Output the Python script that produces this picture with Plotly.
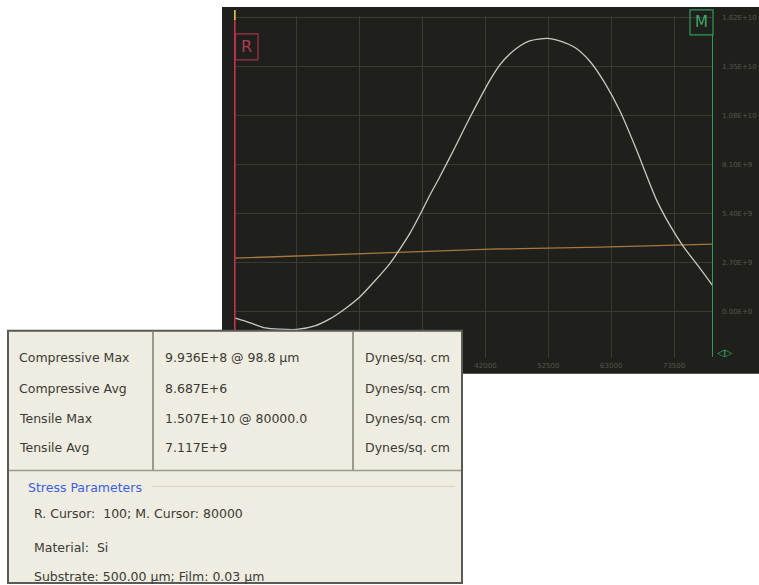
import plotly.graph_objects as go

W, H = 759, 585

# ---- data ----
stress_x = [100, 2700, 5200, 7700, 10500, 13500, 16000, 18500, 21000, 23500, 26100, 27700,
            29400, 31100, 32700, 34400, 36900, 39400, 42800, 44400, 46100, 47800, 49400,
            52400, 54400, 57000, 59500, 62000, 64500, 67000, 69500, 70600, 72800, 75000,
            77800, 80000]
stress_y = [-3.6e8, -6.3e8, -9.1e8, -9.8e8, -9.936e8, -8.0e8, -4.1e8, 1.4e8, 8.0e8, 1.68e9,
            2.67e9, 3.44e9, 4.32e9, 5.36e9, 6.41e9, 7.45e9, 9.05e9, 1.07e10, 1.279e10,
            1.361e10, 1.422e10, 1.466e10, 1.493e10, 1.507e10, 1.493e10, 1.455e10, 1.378e10,
            1.257e10, 1.103e10, 9.10e9, 7.01e9, 6.13e9, 4.76e9, 3.60e9, 2.39e9, 1.40e9]
avg_x = [100, 14400, 27700, 42800, 61200, 80000]
avg_y = [2.94e9, 3.11e9, 3.27e9, 3.44e9, 3.55e9, 3.71e9]

x_ticks = [10500, 21000, 31500, 42000, 52500, 63000, 73500]
x_ticktext = ["", "", "", "42000", "52500", "63000", "73500"]
y_ticks = [0, 2.7e9, 5.4e9, 8.1e9, 1.08e10, 1.35e10, 1.62e10]
y_ticktext = ["0.00E+0", "2.70E+9", "5.40E+9", "8.10E+9", "1.08E+10", "1.35E+10", "1.62E+10"]

r_cursor, m_cursor = 100, 80000

table_rows = [
    ("Compressive Max", "9.936E+8 @ 98.8 µm", "Dynes/sq. cm"),
    ("Compressive Avg", "8.687E+6", "Dynes/sq. cm"),
    ("Tensile Max", "1.507E+10 @ 80000.0", "Dynes/sq. cm"),
    ("Tensile Avg", "7.117E+9", "Dynes/sq. cm"),
]
param_title = "Stress Parameters"
param_lines = ["R. Cursor:  100; M. Cursor: 80000", "Material:  Si",
               "Substrate: 500.00 µm; Film: 0.03 µm"]


def px(x):
    return x / W


def py(y):
    return 1 - y / H


PANEL = "#1f201b"
GRID = "#3a3c34"

fig = go.Figure()
fig.add_trace(go.Scatter(x=avg_x, y=avg_y, mode="lines",
                         line=dict(color="#a8773f", width=1.3), hoverinfo="skip"))
fig.add_trace(go.Scatter(x=stress_x, y=stress_y, mode="lines", line_shape="spline",
                         line=dict(color="#c9c9c0", width=1.3, smoothing=0.7), hoverinfo="skip"))

shapes = []
ann = []
# dark panel
shapes.append(dict(type="rect", xref="paper", yref="paper", x0=px(222), x1=1.0,
                   y0=py(373), y1=py(5), fillcolor=PANEL, line=dict(width=0), layer="below"))
# R cursor
shapes.append(dict(type="line", xref="x", yref="paper", x0=r_cursor, x1=r_cursor,
                   y0=py(365), y1=py(8), line=dict(color="#c0344c", width=2), layer="above"))
shapes.append(dict(type="line", xref="x", yref="paper", x0=r_cursor, x1=r_cursor,
                   y0=py(18), y1=py(8), line=dict(color="#c8c850", width=2), layer="above"))
shapes.append(dict(type="rect", xref="paper", yref="paper", x0=px(235.5), x1=px(258),
                   y0=py(58), y1=py(32), line=dict(color="#a8324a", width=1.2), layer="above"))
ann.append(dict(text="R", xref="paper", yref="paper", x=px(246.5), y=py(45), showarrow=False,
                font=dict(family="DejaVu Sans", size=16, color="#b03a50"),
                xanchor="center", yanchor="middle"))
# M cursor
shapes.append(dict(type="line", xref="x", yref="paper", x0=m_cursor, x1=m_cursor,
                   y0=py(356), y1=py(33), line=dict(color="#2f9a5c", width=2), layer="above"))
shapes.append(dict(type="rect", xref="paper", yref="paper", x0=px(690), x1=px(713),
                   y0=py(33), y1=py(8), line=dict(color="#2f9a5c", width=1.2), layer="above"))
ann.append(dict(text="M", xref="paper", yref="paper", x=px(701.5), y=py(20.5), showarrow=False,
                font=dict(family="DejaVu Sans", size=15, color="#3aa866"),
                xanchor="center", yanchor="middle"))
ann.append(dict(text="◁▷", xref="paper", yref="paper", x=px(725), y=py(352), showarrow=False,
                font=dict(family="DejaVu Sans", size=10, color="#3aa866"),
                xanchor="center", yanchor="middle"))

# table panel
TX0, TX1, TY0, TY1 = 8, 462, 330, 583
shapes.append(dict(type="rect", xref="paper", yref="paper", x0=px(TX0), x1=px(TX1),
                   y0=py(TY1), y1=py(TY0), fillcolor="#efede1",
                   line=dict(color="#5a5a55", width=2), layer="above"))
for cx in (153, 353):
    shapes.append(dict(type="line", xref="paper", yref="paper", x0=px(cx), x1=px(cx),
                       y0=py(470), y1=py(TY0 + 1), line=dict(color="#9c9a8a", width=2),
                       layer="above"))
shapes.append(dict(type="line", xref="paper", yref="paper", x0=px(TX0 + 1), x1=px(TX1 - 1),
                   y0=py(470), y1=py(470), line=dict(color="#9c9a8a", width=1.5), layer="above"))
shapes.append(dict(type="line", xref="paper", yref="paper", x0=px(152), x1=px(455),
                   y0=py(486), y1=py(486), line=dict(color="#d4d2c4", width=1), layer="above"))

row_y = [357, 388, 418, 447]
col_x = [17, 163, 363]
TF = dict(family="DejaVu Sans", size=12.5, color="#3a3a36")
for r, yy in zip(table_rows, row_y):
    for txt, xx in zip(r, col_x):
        ann.append(dict(text=txt, xref="paper", yref="paper", x=px(xx), y=py(yy),
                        showarrow=False, font=TF, xanchor="left", yanchor="middle"))
ann.append(dict(text=param_title, xref="paper", yref="paper", x=px(26), y=py(487),
                showarrow=False, font=dict(family="DejaVu Sans", size=12.5, color="#3c5ee0"),
                xanchor="left", yanchor="middle"))
for txt, yy in zip(param_lines, [513, 547, 576]):
    ann.append(dict(text=txt, xref="paper", yref="paper", x=px(32), y=py(yy),
                    showarrow=False, font=TF, xanchor="left", yanchor="middle"))

fig.update_layout(
    width=W, height=H, margin=dict(l=0, r=0, t=0, b=0),
    paper_bgcolor="white", plot_bgcolor=PANEL, showlegend=False,
    shapes=shapes, annotations=ann,
    xaxis=dict(domain=[px(234), px(713)], range=[0, 80000], tickvals=x_ticks,
               ticktext=x_ticktext,
               showgrid=True, gridcolor=GRID, gridwidth=1, zeroline=False, showline=False,
               ticks="", tickfont=dict(family="DejaVu Sans", size=7, color="#55564e"),
               ticklabelstandoff=2),
    yaxis=dict(domain=[py(357), py(14)], range=[-2.5575e9, 1.63075e10], side="right",
               tickvals=y_ticks, ticktext=y_ticktext,
               showgrid=True, gridcolor=GRID, gridwidth=1, zeroline=False, showline=False,
               ticks="", tickfont=dict(family="DejaVu Sans", size=7, color="#55564e"),
               ticklabelstandoff=8),
)

fig.write_html("out.html")
